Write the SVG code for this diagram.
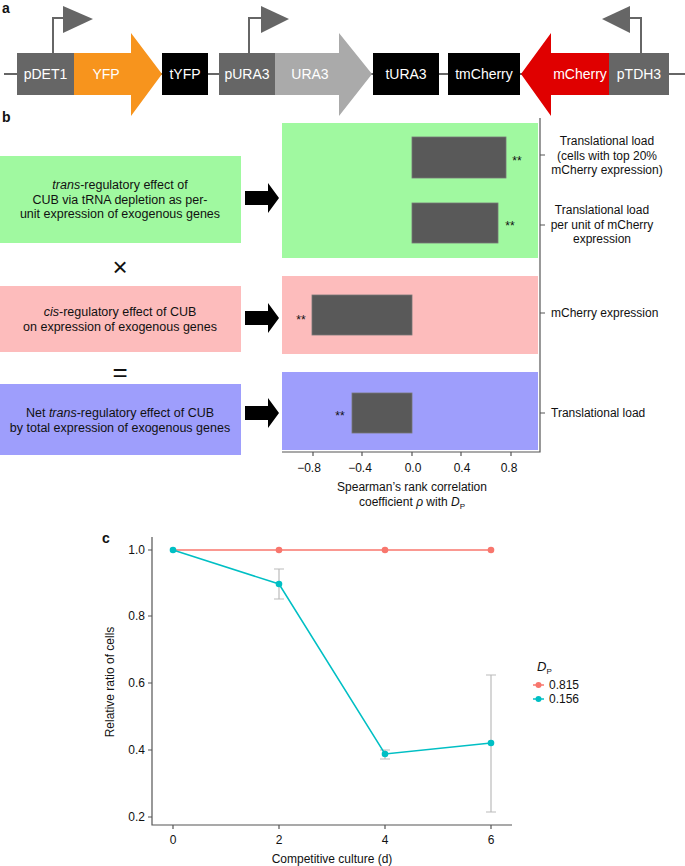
<svg xmlns="http://www.w3.org/2000/svg" width="685" height="866" viewBox="0 0 685 866">
<style>
text{font-family:"Liberation Sans",Arial,sans-serif;fill:#111}
.lbl{font-size:14px;fill:#fff;text-anchor:middle}
.t{font-size:12px}
.tk{font-size:12px;fill:#333}
.bar{fill:#595959;stroke:#777;stroke-width:0.8}
.ax{stroke:#555;stroke-width:1.2;fill:none}
.panel{font-size:14px;font-weight:bold}
.box{font-size:12.5px;text-anchor:middle}
</style>
<defs>
<path id="bigarrow" d="M0,-7 H23 V-15 L34,0 L23,15 V7 H0 Z" fill="#000"/>
</defs>
<rect width="685" height="866" fill="#fff"/>
<text class="panel" x="2" y="13">a</text>
<g id="construct">
<line x1="4" y1="74" x2="685" y2="74" stroke="#666" stroke-width="2"/>
<g id="pDET1"><rect x="17" y="53" width="57" height="42" fill="#666"/><text class="lbl" x="45.5" y="79">pDET1</text>
<path d="M53,53 V18 H63" stroke="#666" stroke-width="2" fill="none"/><path d="M63,6 L93,19 L63,33 Z" fill="#666"/></g>
<g id="YFP"><path d="M74,53 H131 V33 L162,74 L131,116 V95 H74 Z" fill="#f7941d"/><text class="lbl" x="106" y="79">YFP</text></g>
<g id="tYFP"><rect x="162" y="53" width="46" height="42" fill="#000"/><text class="lbl" x="185" y="79">tYFP</text></g>
<g id="pURA3"><rect x="219" y="53" width="56" height="42" fill="#666"/><text class="lbl" x="247" y="79">pURA3</text>
<path d="M249,53 V18 H261" stroke="#666" stroke-width="2" fill="none"/><path d="M261,6 L289,19 L261,33 Z" fill="#666"/></g>
<g id="URA3"><path d="M275,53 H339 V33 L372,74 L339,116 V95 H275 Z" fill="#aaa"/><text class="lbl" x="310" y="79">URA3</text></g>
<g id="tURA3"><rect x="373" y="53" width="66" height="42" fill="#000"/><text class="lbl" x="406" y="79">tURA3</text></g>
<g id="tmCherry"><rect x="448" y="53" width="72" height="42" fill="#000"/><text class="lbl" x="484" y="79">tmCherry</text></g>
<g id="mCherry"><path d="M609,53 H551 V33 L521,74 L551,116 V95 H609 Z" fill="#e00000"/><text class="lbl" x="580" y="79">mCherry</text></g>
<g id="pTDH3"><rect x="609" y="53" width="60" height="42" fill="#666"/><text class="lbl" x="639" y="79">pTDH3</text>
<path d="M641,53 V18 H630" stroke="#666" stroke-width="2" fill="none"/><path d="M630,6 L602,19 L630,33 Z" fill="#666"/></g>
</g>

<text class="panel" x="2" y="122">b</text>
<g id="left-green"><rect x="0" y="156" width="241" height="87" fill="#a0f9a0"/>
<text class="box" x="120" y="189"><tspan font-style="italic">trans</tspan>-regulatory effect of</text>
<text class="box" x="120" y="204">CUB via tRNA depletion as per-</text>
<text class="box" x="120" y="218">unit expression of exogenous genes</text></g>
<g id="left-pink"><rect x="0" y="286" width="241" height="66" fill="#fdbcbc"/>
<text class="box" x="120" y="316"><tspan font-style="italic">cis</tspan>-regulatory effect of CUB</text>
<text class="box" x="120" y="331">on expression of exogenous genes</text></g>
<g id="left-blue"><rect x="0" y="384" width="241" height="71" fill="#9e9efc"/>
<text class="box" x="120" y="417">Net <tspan font-style="italic">trans</tspan>-regulatory effect of CUB</text>
<text class="box" x="120" y="432">by total expression of exogenous genes</text></g>
<text x="120" y="276" font-size="26" text-anchor="middle">×</text>
<text x="120" y="381" font-size="26" text-anchor="middle">=</text>
<g id="connectors">
<use href="#bigarrow" x="245" y="198"/>
<use href="#bigarrow" x="245" y="318"/>
<use href="#bigarrow" x="245" y="413"/>
</g>
<g id="chart-b">
<rect x="282" y="123" width="256" height="135" fill="#a0f9a0"/>
<rect x="282" y="276" width="256" height="78" fill="#fdbcbc"/>
<rect x="282" y="372" width="256" height="78" fill="#9e9efc"/>
<rect class="bar" x="412" y="137" width="94" height="41"/>
<rect class="bar" x="412" y="203" width="86" height="40"/>
<rect class="bar" x="312" y="295" width="100" height="40"/>
<rect class="bar" x="352" y="393" width="60" height="40"/>
<text class="t" x="517" y="165" text-anchor="middle">**</text>
<text class="t" x="510" y="230" text-anchor="middle">**</text>
<text class="t" x="301" y="324" text-anchor="middle">**</text>
<text class="t" x="340" y="420" text-anchor="middle">**</text>
<path class="ax" d="M540,118 V452 H282"/>
<path class="ax" d="M313,452 v4 M362,452 v4 M412,452 v4 M461,452 v4 M511,452 v4 M540,155 h5 M540,225 h5 M540,313 h5 M540,413 h5"/>
<g class="tk" text-anchor="middle">
<text x="309" y="472">−0.8</text><text x="360" y="472">−0.4</text><text x="413" y="472">0.0</text><text x="462" y="472">0.4</text><text x="509" y="472">0.8</text></g>
<text class="t" x="412" y="491" text-anchor="middle">Spearman’s rank correlation</text>
<text class="t" x="412" y="506" text-anchor="middle">coefficient <tspan font-style="italic">ρ</tspan> with <tspan font-style="italic">D</tspan><tspan font-size="8" dy="3">P</tspan></text>
<g class="t" text-anchor="middle">
<text x="607" y="145">Translational load</text><text x="607" y="160">(cells with top 20%</text><text x="607" y="174">mCherry expression)</text>
<text x="602" y="214">Translational load</text><text x="602" y="229">per unit of mCherry</text><text x="602" y="243">expression</text></g>
<text class="t" x="551" y="317">mCherry expression</text>
<text class="t" x="551" y="417">Translational load</text>
</g>

<g id="chart-c">
<text class="panel" x="102" y="543">c</text>
<path class="ax" d="M152,537 V825 H512"/>
<path class="ax" d="M148,550 h4 M148,616 h4 M148,683 h4 M148,750 h4 M148,817 h4 M173,825 v4 M279,825 v4 M385,825 v4 M491,825 v4"/>
<g class="tk" text-anchor="end"><text x="145" y="554">1.0</text><text x="145" y="620">0.8</text><text x="145" y="687">0.6</text><text x="145" y="754">0.4</text><text x="145" y="821">0.2</text></g>
<g class="tk" text-anchor="middle"><text x="173" y="844">0</text><text x="279" y="844">2</text><text x="385" y="844">4</text><text x="491" y="844">6</text></g>
<text class="t" x="332" y="863" text-anchor="middle">Competitive culture (d)</text>
<text class="t" transform="translate(114,682) rotate(-90)" text-anchor="middle">Relative ratio of cells</text>
<g stroke="#bbb" stroke-width="1.2">
<path d="M279,569 V599 M274,569 h10 M274,599 h10"/>
<path d="M385,750 V759 M380,750 h10 M380,759 h10"/>
<path d="M491,675 V812 M486,675 h10 M486,812 h10"/>
</g>
<polyline points="173,550 279,550 385,550 491,550" stroke="#f8766d" stroke-width="1.5" fill="none"/>
<g fill="#f8766d"><circle cx="279" cy="550" r="3.3"/><circle cx="385" cy="550" r="3.3"/><circle cx="491" cy="550" r="3.3"/></g>
<polyline points="173,550 279,584 385,754 491,743" stroke="#00bfc4" stroke-width="1.5" fill="none"/>
<g fill="#00bfc4"><circle cx="173" cy="550" r="3.3"/><circle cx="279" cy="584" r="3.3"/><circle cx="385" cy="754" r="3.3"/><circle cx="491" cy="743" r="3.3"/></g>
<text x="537" y="671" font-size="13" font-style="italic">D<tspan font-size="8" dy="3" font-style="normal">P</tspan></text>
<line x1="533" y1="685" x2="544" y2="685" stroke="#f8766d" stroke-width="1.5"/><circle cx="538.5" cy="685" r="3" fill="#f8766d"/>
<text class="t" x="549" y="689">0.815</text>
<line x1="533" y1="699" x2="544" y2="699" stroke="#00bfc4" stroke-width="1.5"/><circle cx="538.5" cy="699" r="3" fill="#00bfc4"/>
<text class="t" x="549" y="703">0.156</text>
</g>
</svg>
